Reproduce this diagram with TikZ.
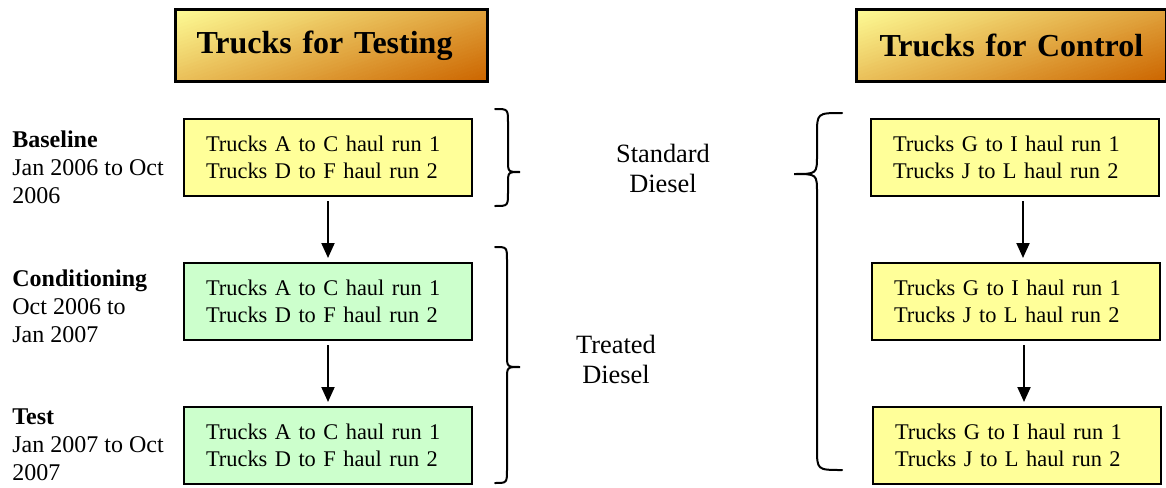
\documentclass[tikz,border=0pt]{standalone}
\usepackage{fontspec}
\setmainfont{Liberation Serif}
\usetikzlibrary{arrows.meta}
\definecolor{boxyellow}{HTML}{FFFF99}
\definecolor{boxgreen}{HTML}{CCFFCC}
\definecolor{gradtop}{HTML}{FFFF99}
\definecolor{gradbot}{HTML}{CC6600}
\newcommand{\drawbrace}[8]{% #1 end x, #2 stem x, #3 tip x, #4 top y, #5 tip y, #6 bottom y, #7 end radius, #8 tip radius
  \draw[bracestyle] (#1,#4) .. controls (#2,#4) .. (#2,{#4+#7}) -- (#2,{#5-#8})
    .. controls (#2,#5) .. (#3,#5) .. controls (#2,#5) .. (#2,{#5+#8})
    -- (#2,{#6-#7}) .. controls (#2,#6) .. (#1,#6);
}
\newcommand{\gradfill}[4]{% x0, y0, width, height (pixels): diagonal yellow-to-orange gradient
  \begin{scope}
    \clip (#1,#2) rectangle ({#1+#3},{#2+#4});
    \foreach \k in {0,...,49}{
      \pgfmathsetmacro\ca{\k/50}
      \pgfmathsetmacro\cb{(\k+1.15)/50}
      \pgfmathsetmacro\mixp{100-(\k+0.5)*2}
      \fill[gradtop!\mixp!gradbot] ({#1+\ca/0.6*#3},#2) -- ({#1+\cb/0.6*#3},#2)
        -- ({#1+(\cb-0.4)/0.6*#3},{#2+#4}) -- ({#1+(\ca-0.4)/0.6*#3},{#2+#4}) -- cycle;
    }
  \end{scope}}
\begin{document}
\begin{tikzpicture}[x=0.5pt,y=-0.5pt,
  every node/.style={font=\fontsize{12}{13.8}\selectfont},
  titlebox/.style={draw, line width=1.5pt, anchor=north west, minimum height=36pt, text width=135pt,
    font=\fontsize{16}{19}\selectfont\bfseries, align=left, inner xsep=10.5pt, inner ysep=0pt},
  truckbox/.style={draw, line width=1pt, anchor=north west, minimum height=38.5pt,
    text width=122pt, inner xsep=11pt, align=left, font=\fontsize{11.2}{13.4}\selectfont},
  yellowbox/.style={truckbox, fill=boxyellow},
  greenbox/.style={truckbox, fill=boxgreen},
  lbl/.style={anchor=base west, align=left, inner sep=0pt},
  dieselnote/.style={anchor=base, align=center, inner sep=0pt, font=\fontsize{13.2}{15}\selectfont},
  arr/.style={-{Triangle[width=6.5pt,length=7.5pt]}, line width=1pt, shorten <=2pt, shorten >=2pt},
  bracestyle/.style={line width=1pt, line cap=round}]
\useasboundingbox (0,0) rectangle (1166,487);
% titles
\gradfill{174}{8}{312}{72}
\gradfill{855}{8}{310}{72}
\node[titlebox] (t1) at (174,8) {Trucks for Testing};
\node[titlebox, text width=132pt, inner xsep=11.5pt] (t2) at (855,8) {Trucks for Control};
% testing boxes
\node[yellowbox] (b1) at (183,118) {Trucks A to C haul run 1\\Trucks D to F haul run 2};
\node[greenbox] (b2) at (183,262) {Trucks A to C haul run 1\\Trucks D to F haul run 2};
\node[greenbox] (b3) at (183,406) {Trucks A to C haul run 1\\Trucks D to F haul run 2};
% control boxes
\node[yellowbox] (c1) at (870,118) {Trucks G to I haul run 1\\Trucks J to L haul run 2};
\node[yellowbox] (c2) at (871,262) {Trucks G to I haul run 1\\Trucks J to L haul run 2};
\node[yellowbox] (c3) at (872,406) {Trucks G to I haul run 1\\Trucks J to L haul run 2};
% arrows
\draw[arr] (b1.south) -- (b2.north);
\draw[arr] (b2.south) -- (b3.north);
\draw[arr] ([xshift=4pt]c1.south) -- ([xshift=4pt]c1.south |- c2.north);
\draw[arr] ([xshift=4pt]c2.south) -- ([xshift=4pt]c2.south |- c3.north);
% phase labels (anchored at the baseline of their last line)
\node[lbl] (l1) at (12,203) {\textbf{Baseline}\\Jan 2006 to Oct\\2006};
\node[lbl] (l2) at (12,342) {\textbf{Conditioning}\\Oct 2006 to\\Jan 2007};
\node[lbl] (l3) at (12,480) {\textbf{Test}\\Jan 2007 to Oct\\2007};
% diesel notes
\node[dieselnote] (d1) at (663,192) {Standard\\Diesel};
\node[dieselnote] (d2) at (616,383) {Treated\\Diesel};
% braces
\drawbrace{495}{508}{520}{109}{172}{206}{14}{12}
\drawbrace{495}{507}{520}{247}{367}{483}{14}{12}
\drawbrace{842}{817}{794}{113}{174}{470}{22}{19}
\end{tikzpicture}
\end{document}
